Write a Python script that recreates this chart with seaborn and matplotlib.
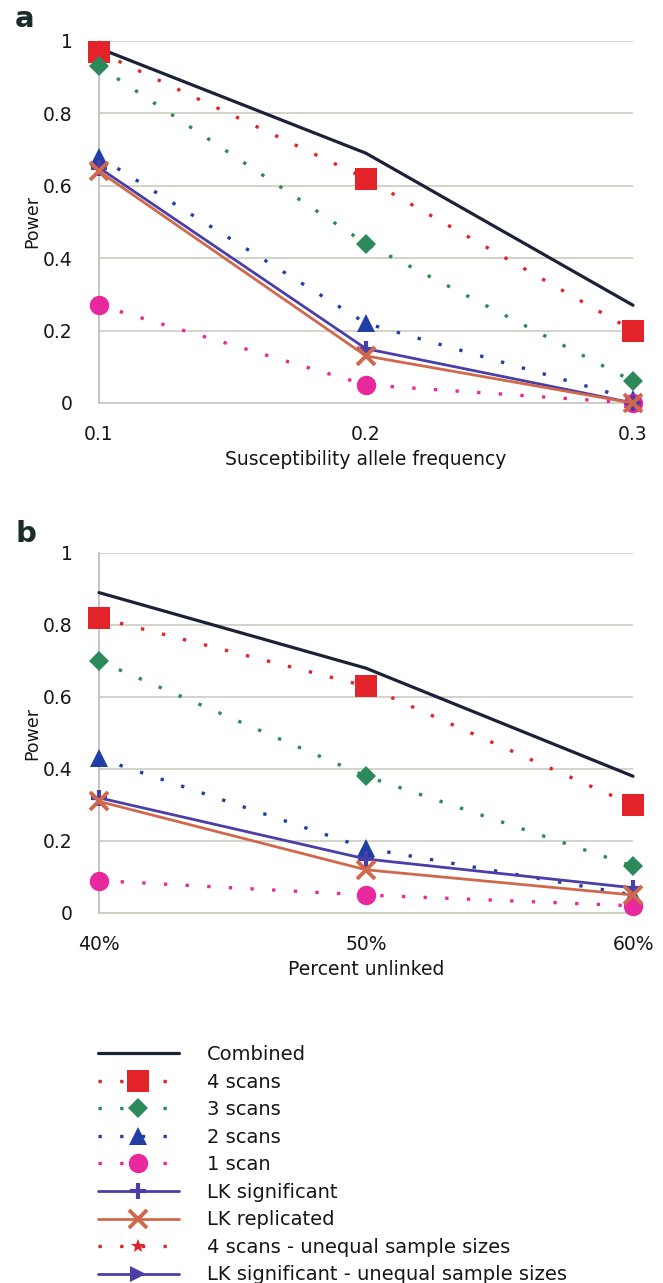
import pandas as pd
import matplotlib
matplotlib.use("Agg")
import matplotlib.pyplot as plt
import seaborn as sns
from matplotlib.lines import Line2D

# x values for the two panels
allele_freq = [0.1, 0.2, 0.3]
pct_unlinked = [40, 50, 60]
pct_labels = ["40%", "50%", "60%"]

series_names = ["Combined", "4 scans", "3 scans", "2 scans", "1 scan",
                "LK significant", "LK replicated"]

# panel a: power vs susceptibility allele frequency
a_combined = [0.98, 0.69, 0.27]
a_scan4 = [0.97, 0.62, 0.20]
a_scan3 = [0.93, 0.44, 0.06]
a_scan2 = [0.68, 0.22, 0.01]
a_scan1 = [0.27, 0.05, 0.00]
a_lk_sig = [0.65, 0.15, 0.00]
a_lk_rep = [0.64, 0.13, 0.00]

# panel b: power vs percent unlinked
b_combined = [0.89, 0.68, 0.38]
b_scan4 = [0.82, 0.63, 0.30]
b_scan3 = [0.70, 0.38, 0.13]
b_scan2 = [0.43, 0.18, 0.05]
b_scan1 = [0.09, 0.05, 0.02]
b_lk_sig = [0.32, 0.15, 0.07]
b_lk_rep = [0.31, 0.12, 0.05]

extra_names = ["4 scans - unequal sample sizes", "LK significant - unequal sample sizes"]

dots = (0, (1, 5.5))
styles = {
    "Combined":       dict(color="#1b2238", ls="-", lw=2.3, marker=None, ms=0, mew=0, z=3),
    "4 scans":        dict(color="#e3232a", ls=dots, lw=2.4, marker="s", ms=15.5, mew=0, z=4),
    "3 scans":        dict(color="#2c8a5a", ls=dots, lw=2.4, marker="D", ms=10, mew=0, z=4),
    "2 scans":        dict(color="#1f3fa6", ls=dots, lw=2.4, marker="^", ms=13, mew=0, z=4),
    "1 scan":         dict(color="#e8289c", ls=dots, lw=2.4, marker="o", ms=14, mew=0, z=4),
    "LK significant": dict(color="#4a3ea8", ls="-", lw=2.0, marker="+", ms=12, mew=3, z=5),
    "LK replicated":  dict(color="#d0694c", ls="-", lw=2.0, marker="x", ms=13, mew=2.8, z=6),
    extra_names[0]:   dict(color="#e3232a", ls=dots, lw=2.4, marker="*", ms=10, mew=0, z=4),
    extra_names[1]:   dict(color="#4a3ea8", ls="-", lw=2.0, marker=">", ms=11, mew=0, z=4),
}

grid_col = "#c9c7ba"
spine_col = "#b5b5b5"
text_col = "#161616"

sns.set_style("white")
plt.rcParams["font.family"] = ["DejaVu Sans"]

fig = plt.figure(figsize=(6.63, 12.83), dpi=100)
W, H = 663, 1283


def make_axes(top_px, bottom_px):
    left, right = 99, 633
    return fig.add_axes([left / W, 1 - bottom_px / H, (right - left) / W, (bottom_px - top_px) / H])


def draw_panel(ax, x, values, xlabel, xlim, ticklabels):
    df = pd.DataFrame({"x": x * len(series_names),
                       "power": [v for vals in values for v in vals],
                       "series": [n for n in series_names for _ in x]})
    for name in series_names:
        st = styles[name]
        sub = df[df["series"] == name]
        kws = dict(color=st["color"], linestyle=st["ls"], linewidth=st["lw"],
                   clip_on=False, zorder=st["z"])
        if st["marker"]:
            kws.update(marker=st["marker"], markersize=st["ms"], mfc=st["color"],
                       mec=st["color"], mew=st["mew"])
        sns.lineplot(data=sub, x="x", y="power", ax=ax, sort=False, errorbar=None, **kws)

    ax.set_xlim(*xlim)
    ax.set_ylim(0, 1)
    ax.set_xticks(x)
    ax.set_xticklabels(ticklabels)
    ax.set_yticks([0, 0.2, 0.4, 0.6, 0.8, 1])
    ax.set_yticklabels(["0", "0.2", "0.4", "0.6", "0.8", "1"])
    ax.yaxis.grid(True, color=grid_col, lw=1.1)
    ax.xaxis.grid(False)
    for s in ["top", "right"]:
        ax.spines[s].set_visible(False)
    ax.spines["left"].set_color(spine_col)
    ax.spines["bottom"].set_color(grid_col)
    ax.spines["left"].set_linewidth(1.1)
    ax.spines["bottom"].set_linewidth(1.1)
    ax.tick_params(axis="y", length=13, color=grid_col, width=1.1, pad=6, labelsize=13.5,
                   labelcolor=text_col)
    ax.tick_params(axis="x", length=10, color=spine_col, width=1.1, pad=6, labelsize=13.5,
                   labelcolor=text_col)
    ax.set_xlabel(xlabel, fontsize=13.5, color=text_col)
    ax.set_ylabel("Power", fontsize=12.5, color=text_col)
    ax.xaxis.set_label_coords(0.5, -0.13)
    ax.yaxis.set_label_coords(-0.108, 0.5)


ax_a = make_axes(41, 403)
draw_panel(ax_a, allele_freq,
           [a_combined, a_scan4, a_scan3, a_scan2, a_scan1, a_lk_sig, a_lk_rep],
           "Susceptibility allele frequency", (0.1, 0.3), ["0.1", "0.2", "0.3"])

ax_b = make_axes(553, 913)
draw_panel(ax_b, pct_unlinked,
           [b_combined, b_scan4, b_scan3, b_scan2, b_scan1, b_lk_sig, b_lk_rep],
           "Percent unlinked", (40, 60), pct_labels)

fig.text(15 / W, 1 - 27 / H, "a", fontsize=21, fontweight="bold", color="#1c2b2b", va="baseline")
fig.text(15 / W, 1 - 542 / H, "b", fontsize=21, fontweight="bold", color="#1c2b2b", va="baseline")

handles = []
for name in series_names + extra_names:
    st = styles[name]
    if st["marker"]:
        h = Line2D([], [], color=st["color"], ls=st["ls"], lw=st["lw"], marker=st["marker"],
                   ms=st["ms"], mfc=st["color"], mec=st["color"], mew=st["mew"])
    else:
        h = Line2D([], [], color=st["color"], ls=st["ls"], lw=st["lw"])
    handles.append(h)

fig.legend(handles, series_names + extra_names, loc="upper left",
           bbox_to_anchor=(98 / W, 1 - 1045 / H), frameon=False, fontsize=14,
           handlelength=4.15, handletextpad=1.45, labelspacing=0.44, borderpad=0,
           borderaxespad=0, numpoints=1, labelcolor=text_col)

fig.savefig("out.png", dpi=100, facecolor="white")
